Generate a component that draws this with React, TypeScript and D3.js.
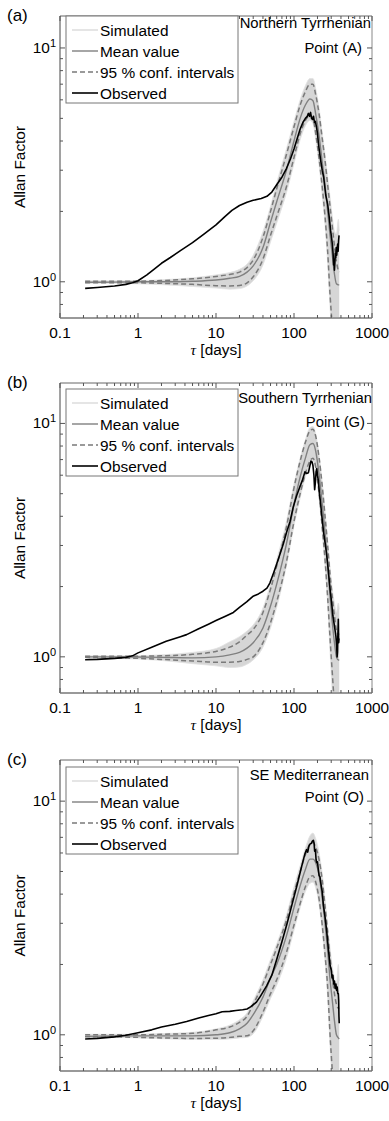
import React from 'react';
import * as d3 from 'd3';

// ---------- data ----------
const tauGrid = [0.21, 0.5, 1, 2, 5, 10, 15, 20, 25, 30, 40, 50, 60, 80, 100, 120, 140, 160, 175, 190, 210, 230, 250, 270, 290, 310, 330, 350, 370, 380];

// Panel (a) Northern Tyrrhenian
const meanA = [0.995, 0.997, 1.0, 1.0, 1.005, 1.017, 1.035, 1.055, 1.1, 1.17, 1.4, 1.8, 2.2, 3.0, 4.0, 5.0, 5.7, 6.05, 5.95, 5.2, 4.2, 3.25, 2.6, 2.0, 1.58, 1.3, 1.08, 0.98, 0.97, 0.97];
const hiA = [1.005, 1.005, 1.006, 1.012, 1.03, 1.054, 1.075, 1.1, 1.15, 1.24, 1.55, 2.0, 2.5, 3.5, 4.6, 5.7, 6.5, 7.0, 7.0, 6.3, 5.2, 4.1, 3.3, 2.6, 2.1, 1.72, 1.42, 1.22, 1.12, 1.1];
const loA = [0.99, 0.99, 0.99, 0.985, 0.975, 0.962, 0.96, 0.965, 0.99, 1.05, 1.25, 1.58, 1.9, 2.55, 3.4, 4.3, 4.9, 5.15, 5.0, 4.3, 3.35, 2.55, 1.9, 1.35, 0.88, 0.64, 0.5, 0.42, 0.38, 0.35];
const simMinA = [0.985, 0.985, 0.98, 0.972, 0.955, 0.94, 0.93, 0.935, 0.96, 1.01, 1.18, 1.48, 1.78, 2.4, 3.2, 4.05, 4.65, 4.9, 4.75, 4.05, 3.15, 2.35, 1.75, 1.2, 0.78, 0.55, 0.42, 0.36, 0.33, 0.3];
const simMaxA = [1.01, 1.01, 1.012, 1.02, 1.04, 1.07, 1.095, 1.13, 1.19, 1.3, 1.64, 2.1, 2.65, 3.7, 4.85, 6.0, 6.9, 7.4, 7.4, 6.7, 5.5, 4.35, 3.5, 2.8, 2.3, 1.9, 1.65, 1.6, 1.85, 1.65];
const obsTauA = [0.21, 0.3, 0.5, 0.7, 0.85, 1, 1.3, 1.6, 2, 2.6, 3.5, 5, 7, 10, 13, 16, 20, 25, 30, 38, 45, 52, 60, 70, 80, 90, 100, 110, 120, 130, 140, 148, 153, 158, 163, 168, 173, 178, 183, 188, 195, 200, 205, 212, 220, 230, 240, 255, 270, 285, 295, 305, 312, 318, 322, 326, 330, 334, 338, 343, 348, 353, 358, 363, 368, 373, 378];
const obsA = [0.937, 0.945, 0.96, 0.975, 0.99, 1.01, 1.07, 1.13, 1.2, 1.27, 1.36, 1.47, 1.6, 1.75, 1.9, 2.02, 2.12, 2.19, 2.23, 2.27, 2.32, 2.42, 2.6, 2.8, 3.05, 3.35, 3.7, 4.1, 4.5, 4.8, 5.0, 5.1, 5.25, 5.1, 5.3, 5.0, 4.95, 5.1, 4.8, 4.85, 4.55, 4.3, 3.95, 3.6, 3.3, 3.0, 2.8, 2.35, 2.15, 1.85, 1.65, 1.52, 1.42, 1.3, 1.18, 1.25, 1.12, 1.2, 1.32, 1.27, 1.4, 1.3, 1.38, 1.45, 1.35, 1.5, 1.58];

// Panel (b) Southern Tyrrhenian
const meanB = [1.0, 1.0, 0.998, 0.995, 0.99, 1.0, 1.02, 1.045, 1.09, 1.15, 1.33, 1.65, 2.05, 3.05, 4.5, 5.9, 7.1, 8.1, 8.2, 7.6, 6.0, 4.5, 3.4, 2.5, 1.8, 1.4, 1.15, 1.0, 0.97, 0.97];
const hiB = [1.005, 1.005, 1.006, 1.01, 1.025, 1.055, 1.1, 1.16, 1.24, 1.31, 1.55, 1.95, 2.45, 3.6, 5.3, 6.9, 8.3, 9.3, 9.45, 8.8, 7.1, 5.4, 4.0, 3.0, 2.25, 1.8, 1.5, 1.3, 1.25, 1.25];
const loB = [0.995, 0.99, 0.985, 0.975, 0.96, 0.948, 0.948, 0.955, 0.975, 1.0, 1.15, 1.4, 1.72, 2.55, 3.8, 5.0, 6.1, 6.9, 7.1, 6.5, 5.0, 3.6, 2.6, 1.8, 1.2, 0.85, 0.62, 0.48, 0.4, 0.35];
const simMinB = [0.99, 0.985, 0.978, 0.965, 0.935, 0.915, 0.9, 0.905, 0.93, 0.97, 1.1, 1.33, 1.63, 2.45, 3.65, 4.8, 5.9, 6.7, 6.9, 6.3, 4.8, 3.4, 2.45, 1.68, 1.05, 0.7, 0.5, 0.4, 0.36, 0.33];
const simMaxB = [1.01, 1.01, 1.012, 1.02, 1.045, 1.085, 1.16, 1.22, 1.29, 1.37, 1.62, 2.05, 2.6, 3.8, 5.5, 7.1, 8.5, 9.6, 9.7, 9.0, 7.3, 5.6, 4.2, 3.15, 2.4, 1.95, 1.7, 1.55, 1.7, 1.6];
const obsTauB = [0.21, 0.3, 0.5, 0.7, 0.85, 1, 1.5, 2.3, 3.5, 4.2, 6, 8, 10, 13, 16.7, 20, 24.7, 30, 35, 40, 45, 49, 55, 60, 66, 73, 80, 89, 98, 108, 119, 128, 138, 145, 153, 160, 165, 170, 175, 180, 184, 188, 192, 196, 200, 205, 212, 220, 226, 240, 255, 262, 275, 290, 304, 315, 325, 336, 345, 352, 357, 361, 364, 367, 370, 374, 378];
const obsB = [0.972, 0.975, 0.985, 0.995, 1.01, 1.04, 1.1, 1.165, 1.22, 1.245, 1.32, 1.38, 1.43, 1.49, 1.55, 1.63, 1.72, 1.82, 1.86, 1.91, 1.97, 2.07, 2.3, 2.5, 2.75, 3.05, 3.4, 3.8, 4.4, 4.9, 5.35, 5.7, 6.2, 6.1, 6.15, 6.6, 6.9, 6.85, 6.6, 6.0, 5.2, 5.6, 6.2, 6.4, 6.0, 5.7, 5.0, 4.5, 4.1, 3.4, 2.95, 2.75, 2.35, 1.95, 1.7, 1.5, 1.4, 1.3, 1.22, 1.12, 1.0, 1.05, 1.2, 1.3, 1.45, 1.15, 1.2];

// Panel (c) SE Mediterranean
const meanC = [0.985, 0.99, 0.99, 0.99, 0.99, 1.0, 1.02, 1.06, 1.12, 1.22, 1.45, 1.75, 2.0, 2.65, 3.5, 4.35, 5.1, 5.65, 5.65, 5.45, 4.8, 3.85, 3.0, 2.3, 1.72, 1.4, 1.15, 1.0, 0.97, 0.96];
const hiC = [1.0, 1.0, 1.0, 1.005, 1.015, 1.05, 1.08, 1.13, 1.2, 1.35, 1.65, 2.0, 2.35, 3.1, 4.05, 5.0, 5.9, 6.55, 6.65, 6.35, 5.6, 4.6, 3.55, 2.75, 2.15, 1.75, 1.5, 1.35, 1.3, 1.3];
const loC = [0.98, 0.98, 0.975, 0.97, 0.965, 0.967, 0.975, 0.985, 0.99, 1.04, 1.25, 1.5, 1.72, 2.25, 2.95, 3.65, 4.3, 4.75, 4.8, 4.5, 3.8, 2.95, 2.2, 1.6, 1.0, 0.7, 0.53, 0.45, 0.4, 0.35];
const simMinC = [0.975, 0.975, 0.97, 0.962, 0.955, 0.955, 0.96, 0.97, 0.975, 1.01, 1.2, 1.43, 1.63, 2.12, 2.8, 3.5, 4.1, 4.45, 4.5, 4.25, 3.6, 2.8, 2.05, 1.45, 0.9, 0.62, 0.47, 0.4, 0.36, 0.33];
const simMaxC = [1.005, 1.005, 1.006, 1.012, 1.025, 1.06, 1.1, 1.16, 1.24, 1.4, 1.72, 2.1, 2.45, 3.25, 4.3, 5.3, 6.3, 7.1, 7.3, 6.9, 6.0, 4.9, 3.8, 2.95, 2.35, 1.95, 1.75, 1.65, 2.0, 1.7];
const obsTauC = [0.21, 0.3, 0.5, 0.7, 1, 1.5, 2, 3, 4.2, 6, 8, 10, 12, 15, 18, 22, 25, 28, 33, 37, 44.6, 52, 60, 70, 80.5, 90, 100, 110, 119, 128, 138, 145, 150, 155, 160, 167, 172, 177, 181, 184, 188, 192, 196, 200, 205, 210, 215, 222, 230, 238, 250, 262, 275, 290, 300, 308, 315, 322, 330, 337, 345, 352, 358, 364, 370, 374, 377, 380];
const obsC = [0.96, 0.965, 0.98, 0.995, 1.02, 1.05, 1.08, 1.11, 1.14, 1.18, 1.21, 1.23, 1.255, 1.26, 1.27, 1.28, 1.29, 1.32, 1.38, 1.46, 1.62, 1.8, 2.1, 2.5, 2.95, 3.4, 3.9, 4.4, 4.9, 5.4, 5.95, 6.2, 6.05, 6.4, 6.55, 6.6, 6.75, 6.8, 6.6, 6.1, 6.2, 5.6, 5.45, 5.5, 5.1, 4.8, 4.75, 4.4, 4.1, 3.6, 3.2, 2.8, 2.35, 1.98, 1.9, 1.75, 1.8, 1.65, 1.7, 1.58, 1.65, 1.55, 1.6, 1.5, 1.5, 1.4, 1.2, 1.12];

// ---------- labels ----------
const xTicks = [0.1, 1, 10, 100, 1000];
const xTickLabels = ['0.1', '1', '10', '100', '1000'];
const yTicks = [1, 10];
const yTickExponents = ['0', '1'];
const legendLabels = ['Simulated', 'Mean value', '95 % conf. intervals', 'Observed'];
const panelLetters = ['(a)', '(b)', '(c)'];
const siteLine1 = ['Northern Tyrrhenian', 'Southern Tyrrhenian', 'SE Mediterranean'];
const siteLine2 = ['Point (A)', 'Point (G)', 'Point (O)'];
const yAxisTitle = 'Allan Factor';

const series = [
  { mean: meanA, hi: hiA, lo: loA, smin: simMinA, smax: simMaxA, otau: obsTauA, obs: obsA },
  { mean: meanB, hi: hiB, lo: loB, smin: simMinB, smax: simMaxB, otau: obsTauB, obs: obsB },
  { mean: meanC, hi: hiC, lo: loC, smin: simMinC, smax: simMaxC, otau: obsTauC, obs: obsC },
];

// ---------- layout ----------
const layout = [
  { top: 16, bottom: 318, yMax: 13.7, legendTop: 16, site1: [371, 28], site2: [362, 53] },
  { top: 383, bottom: 693, yMax: 14.9, legendTop: 389, site1: [372, 403], site2: [365, 427] },
  { top: 760, bottom: 1071, yMax: 15, legendTop: 767, site1: [369, 780], site2: [364, 802] },
];
const LEFT = 60;
const RIGHT = 372;
const FONT = '"Liberation Sans", Arial, Helvetica, sans-serif';
const FS = 15.4;

function Panel({ idx }: { idx: number }) {
  const L = layout[idx];
  const S = series[idx];
  const x = d3.scaleLog().domain([0.1, 1000]).range([LEFT, RIGHT]);
  const y = d3.scaleLog().domain([0.7, L.yMax]).range([L.bottom, L.top]);

  const area = d3
    .area<number>()
    .x((_, i) => x(tauGrid[i]))
    .y0((_, i) => y(S.smin[i]))
    .y1((_, i) => y(S.smax[i]))
    .curve(d3.curveMonotoneX);
  const gridLine = d3
    .line<number>()
    .x((_, i) => x(tauGrid[i]))
    .y((d) => y(d))
    .curve(d3.curveMonotoneX);
  const obsLine = d3
    .line<number>()
    .x((_, i) => x(S.otau[i]))
    .y((d) => y(d));

  const xMinor: number[] = [];
  [0.1, 1, 10, 100].forEach((dd) => {
    for (let k = 2; k <= 9; k++) xMinor.push(dd * k);
  });
  const yMinor = [0.8, 0.9, 2, 3, 4, 5, 6, 7, 8, 9].filter((v) => v > 0.7 && v < L.yMax);

  const clipId = `clip-${idx}`;
  const midY = (L.top + L.bottom) / 2;
  const lx = 66;
  const lw = 172;
  const lh = 87;
  const rows = [14, 35, 56, 77];

  return (
    <g>
      <defs>
        <clipPath id={clipId}>
          <rect x={LEFT} y={L.top} width={RIGHT - LEFT} height={L.bottom - L.top} />
        </clipPath>
      </defs>
      <g clipPath={`url(#${clipId})`}>
        <path d={area(S.mean) || ''} fill="#d6d6d6" stroke="none" />
        <path d={gridLine(S.smin) || ''} fill="none" stroke="#e2e2e2" strokeWidth={0.8} />
        <path d={gridLine(S.smax) || ''} fill="none" stroke="#e2e2e2" strokeWidth={0.8} />
        <path d={gridLine(S.mean) || ''} fill="none" stroke="#808080" strokeWidth={1.4} />
        <path d={gridLine(S.hi) || ''} fill="none" stroke="#7a7a7a" strokeWidth={1.5} strokeDasharray="5,3" />
        <path d={gridLine(S.lo) || ''} fill="none" stroke="#7a7a7a" strokeWidth={1.5} strokeDasharray="5,3" />
        <path d={obsLine(S.obs) || ''} fill="none" stroke="#000" strokeWidth={1.6} strokeLinejoin="round" />
      </g>

      {/* axes box */}
      <line x1={LEFT} x2={RIGHT} y1={L.top} y2={L.top} stroke="#666" strokeWidth={1} />
      <line x1={RIGHT} x2={RIGHT} y1={L.top} y2={L.bottom} stroke="#888" strokeWidth={1} />
      <line x1={LEFT} x2={LEFT} y1={L.top} y2={L.bottom} stroke="#444" strokeWidth={1} />
      <line x1={LEFT} x2={RIGHT} y1={L.bottom} y2={L.bottom} stroke="#999" strokeWidth={2} />

      {/* x ticks */}
      {xTicks.map((t) => (
        <g key={'xt' + t}>
          <line x1={x(t)} x2={x(t)} y1={L.bottom} y2={L.bottom - 5} stroke="#555" />
          <line x1={x(t)} x2={x(t)} y1={L.top} y2={L.top + 5} stroke="#555" />
        </g>
      ))}
      {xMinor.map((t) => (
        <g key={'xm' + t}>
          <line x1={x(t)} x2={x(t)} y1={L.bottom} y2={L.bottom - 3} stroke="#555" />
          <line x1={x(t)} x2={x(t)} y1={L.top} y2={L.top + 3} stroke="#555" />
        </g>
      ))}
      {xTicks.map((t, i) => (
        <text key={'xl' + t} x={x(t)} y={L.bottom + 20} textAnchor="middle" fontFamily={FONT} fontSize={FS} fill="#000">
          {xTickLabels[i]}
        </text>
      ))}
      <text x={(LEFT + RIGHT) / 2} y={L.bottom + 37} textAnchor="middle" fontFamily={FONT} fontSize={FS} fill="#000">
        <tspan fontFamily='"Liberation Serif", "Times New Roman", serif' fontStyle="italic">τ</tspan>
        <tspan> [days]</tspan>
      </text>

      {/* y ticks */}
      {yTicks.map((t) => (
        <g key={'yt' + t}>
          <line x1={LEFT} x2={LEFT + 5} y1={y(t)} y2={y(t)} stroke="#555" />
          <line x1={RIGHT} x2={RIGHT - 5} y1={y(t)} y2={y(t)} stroke="#555" />
        </g>
      ))}
      {yMinor.map((t) => (
        <g key={'ym' + t}>
          <line x1={LEFT} x2={LEFT + 3} y1={y(t)} y2={y(t)} stroke="#555" />
          <line x1={RIGHT} x2={RIGHT - 3} y1={y(t)} y2={y(t)} stroke="#555" />
        </g>
      ))}
      {yTicks.map((t, i) => (
        <text key={'yl' + t} x={56} y={y(t) + 5} textAnchor="end" fontFamily={FONT} fontSize={FS} fill="#000">
          10
          <tspan fontSize={11} dy={-6}>{yTickExponents[i]}</tspan>
        </text>
      ))}
      <text
        transform={`translate(25,${midY}) rotate(-90)`}
        textAnchor="middle"
        fontFamily={FONT}
        fontSize={FS}
        fill="#000"
      >
        {yAxisTitle}
      </text>

      {/* panel letter */}
      <text x={7} y={L.top + 5} fontFamily={FONT} fontSize={17} fill="#000">
        {panelLetters[idx]}
      </text>

      {/* site annotation */}
      <text x={L.site1[0]} y={L.site1[1]} textAnchor="end" fontFamily={FONT} fontSize={14.8} fill="#000">
        {siteLine1[idx]}
      </text>
      <text x={L.site2[0]} y={L.site2[1]} textAnchor="end" fontFamily={FONT} fontSize={14.8} fill="#000">
        {siteLine2[idx]}
      </text>

      {/* legend */}
      <g>
        <rect x={lx} y={L.legendTop} width={lw} height={lh} fill="#fff" stroke="#777" strokeWidth={1} />
        <line x1={lx + 6} x2={lx + 32} y1={L.legendTop + rows[0]} y2={L.legendTop + rows[0]} stroke="#dcdcdc" strokeWidth={1.5} />
        <line x1={lx + 6} x2={lx + 32} y1={L.legendTop + rows[1]} y2={L.legendTop + rows[1]} stroke="#808080" strokeWidth={1.4} />
        <line x1={lx + 6} x2={lx + 32} y1={L.legendTop + rows[2]} y2={L.legendTop + rows[2]} stroke="#7a7a7a" strokeWidth={1.5} strokeDasharray="5,3" />
        <line x1={lx + 6} x2={lx + 32} y1={L.legendTop + rows[3]} y2={L.legendTop + rows[3]} stroke="#000" strokeWidth={1.6} />
        {legendLabels.map((lab, i) => (
          <text key={lab} x={lx + 34} y={L.legendTop + rows[i] + 5.5} fontFamily={FONT} fontSize={FS} fill="#000">
            {lab}
          </text>
        ))}
      </g>
    </g>
  );
}

export default function App() {
  return (
    <svg
      width={389}
      height={1121}
      viewBox="0 0 389 1121"
      style={{ position: 'absolute', left: 0, top: 0, background: '#fff' }}
    >
      <rect x={0} y={0} width={389} height={1121} fill="#fff" />
      {[0, 1, 2].map((i) => (
        <Panel key={i} idx={i} />
      ))}
    </svg>
  );
}
